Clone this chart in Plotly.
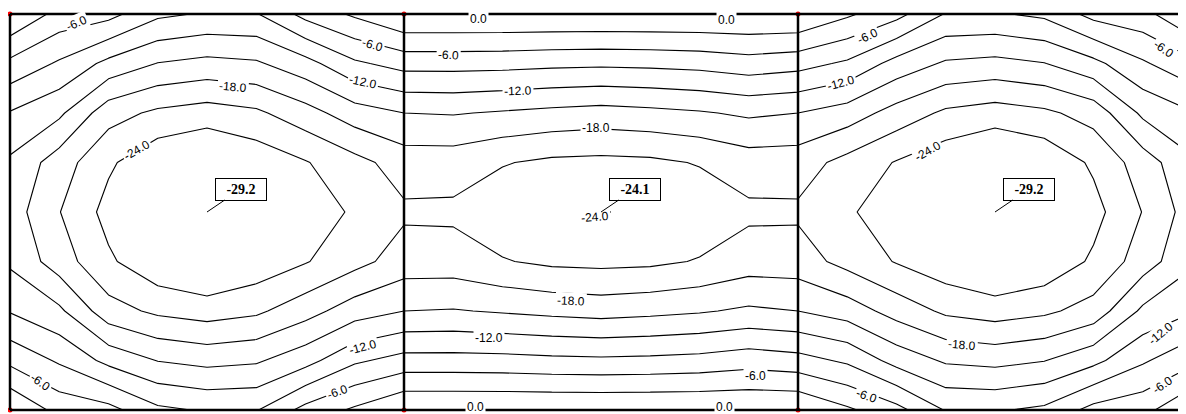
import plotly.graph_objects as go

# grid node positions (span length = 8 units, 3 spans, panel depth = 8 units)
x_nodes = list(range(25))
y_nodes = list(range(9))

# moment values at mesh nodes, row 0 = top edge
row0 = [0, -4, -5, -8.4, -9.3, -9.2, -5, -2.5, 0, 0, 0, 0, 0, 0, 0, 0, 0, -2.5, -5, -9.2, -9.3, -8.4, -5, -4, 0]
row1 = [-6.75, -9.4, -12.85, -15.1, -15.9, -15.4, -13.1, -9.5, -7.9, -7.9, -8.0, -8.3, -8.45, -8.3, -8.0, -7.3, -7.9, -9.5, -13.1, -15.4, -15.9, -15.1, -12.85, -9.4, -6.75]
row2 = [-12.2, -14.4, -19.8, -21.6, -22.4, -21.55, -19.2, -16.4, -15.0, -14.8, -15.3, -15.8, -16.2, -15.8, -15.3, -14.5, -15.0, -16.4, -19.2, -21.55, -22.4, -21.6, -19.8, -14.4, -12.2]
row3 = [-15.5, -19.5, -23.5, -26.3, -27.7, -26.0, -24.2, -22.0, -19.6, -19.6, -20.8, -21.6, -21.8, -21.6, -20.8, -19.5, -19.6, -22.0, -24.2, -26.0, -27.7, -26.3, -23.5, -19.5, -15.5]
row4 = [-16.5, -20.9, -25.0, -28.0, -29.2, -28.0, -26.0, -23.5, -21.5, -21.6, -23.0, -23.6, -24.1, -23.6, -23.0, -21.6, -21.5, -23.5, -26.0, -28.0, -29.2, -28.0, -25.0, -20.9, -16.5]
row5 = list(row3)
row6 = list(row2)
row7 = list(row1)
row8 = list(row0)
z = [row0, row1, row2, row3, row4, row5, row6, row7, row8]

support_x = [0, 8, 16]
support_y = [0, 8]

# extreme value tags
peak_x = [4, 12, 20]
peak_y = [4, 4, 4]
peak_text = ["-29.2", "-24.1", "-29.2"]

# contour levels
levels = dict(start=-24, end=-3, size=3)

# contour level labels: value shown, and where it sits (grid units) / its rotation
label_value = [-6, -6, -12, -18, -24, -6, -12, -6,
               -6, -12, -18, -18, -12, -6, -24,
               -6, -12, -24, -6, -18, -12, -6, -6,
               0, 0, 0, 0]
label_x = [1.36, 7.37, 7.17, 4.53, 2.58, 0.61, 7.17, 6.64,
           8.91, 10.31, 11.90, 11.39, 9.73, 15.13, 11.88,
           17.42, 16.87, 18.64, 23.42, 19.33, 23.38, 23.40, 17.40,
           9.52, 14.54, 9.46, 14.50]
label_y = [0.18, 0.63, 1.37, 1.47, 2.75, 7.43, 6.73, 7.64,
           0.83, 1.56, 2.30, 5.80, 6.55, 7.31, 4.10,
           0.44, 1.39, 2.77, 0.71, 6.69, 6.45, 7.49, 7.72,
           0.10, 0.12, 7.93, 7.93]
label_angle = [-24, 16, 12, 5, -30, 35, -15, -20,
               3, -2, 0, 3, 0, 0, -5,
               -25, -15, -30, 35, 5, -40, -35, 20,
               0, 0, 0, 0]

LABEL_FONT = dict(family="Liberation Sans", size=12, color="black")

fig = go.Figure()
black = [[0, "black"], [1, "black"]]
fig.add_trace(go.Contour(
    x=x_nodes, y=y_nodes, z=z, colorscale=black, showscale=False,
    contours=dict(coloring="lines", showlabels=False, **levels),
    line=dict(width=1.1, smoothing=0), hoverinfo="skip"))

shapes = []
for yv in support_y:
    shapes.append(dict(type="line", x0=0, x1=24, y0=yv, y1=yv, xref="x", yref="y",
                       line=dict(color="black", width=2.5), layer="above"))
for xv in support_x:
    shapes.append(dict(type="line", x0=xv, x1=xv, y0=0, y1=8, xref="x", yref="y",
                       line=dict(color="black", width=2.5), layer="above"))

sx, sy = [], []
for xv in support_x:
    for yv in support_y:
        sx.append(xv)
        sy.append(yv)
fig.add_trace(go.Scatter(x=sx, y=sy, mode="markers", marker=dict(color="red", size=5),
                         cliponaxis=False, hoverinfo="skip", showlegend=False))

annotations = []
for lv, lx, ly, la in zip(label_value, label_x, label_y, label_angle):
    annotations.append(dict(x=lx, y=ly, xref="x", yref="y", text="%.1f" % lv,
                            textangle=la, showarrow=False, font=LABEL_FONT,
                            bgcolor="white", borderpad=1))

for px, py, t in zip(peak_x, peak_y, peak_text):
    annotations.append(dict(x=px, y=py, xref="x", yref="y", text="<b>" + t + "</b>",
                            showarrow=True, arrowhead=0, arrowwidth=1, arrowcolor="black",
                            ax=34, ay=-23, width=46, height=17, align="center",
                            font=dict(family="Liberation Serif", size=14, color="black"),
                            bordercolor="black", borderwidth=1, borderpad=2, bgcolor="white"))

# the page adds an 8 px body margin; place the plate so that it lands as in the reference
PX_X = 49.25
PX_Y = 49.5
fig.update_layout(
    width=1186, height=414, margin=dict(l=0, r=0, t=0, b=0),
    paper_bgcolor="white", plot_bgcolor="white", showlegend=False,
    xaxis=dict(range=[-2 / PX_X, -2 / PX_X + 1186 / PX_X], visible=False,
               showgrid=False, zeroline=False),
    yaxis=dict(range=[-6 / PX_Y + 414 / PX_Y, -6 / PX_Y], visible=False,
               showgrid=False, zeroline=False),
    shapes=shapes, annotations=annotations)

fig.write_html("out.html")
